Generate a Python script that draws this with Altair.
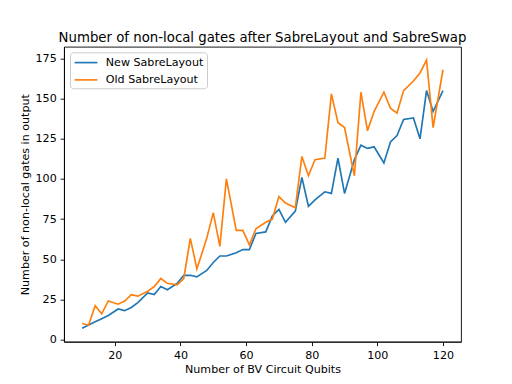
import altair as alt
import pandas as pd

qubits = [10, 12, 14, 16, 18, 21, 23, 25, 27, 30, 32, 34, 36, 39, 41, 43, 45, 48, 50, 52,
          54, 57, 59, 61, 63, 66, 68, 70, 72, 75, 77, 79, 81, 84, 86, 88, 90, 93, 95, 97,
          99, 102, 104, 106, 108, 111, 113, 115, 117, 120]
new_layout = [7, 9, 11, 13, 15, 19, 18, 20, 23, 29, 28, 33, 31, 35, 40, 40, 39, 43, 48, 52,
              52, 54, 56, 56, 66, 67, 77, 81, 73, 80, 101, 83, 87, 92, 91, 113, 91, 112, 121, 119,
              120, 110, 123, 127, 137, 138, 125, 155, 142, 155]
old_layout = [10, 9, 21, 16, 24, 22, 24, 28, 27, 30, 33, 38, 35, 34, 38, 63, 44, 63, 79, 58,
              100, 68, 68, 59, 69, 73, 75, 89, 85, 82, 114, 102, 112, 113, 153, 135, 132, 102, 154, 130,
              142, 154, 144, 141, 155, 161, 166, 174, 132, 168]
series_names = ["New SabreLayout", "Old SabreLayout"]
series_colors = ["#1f77b4", "#ff7f0e"]
x_ticks = [20, 40, 60, 80, 100, 120]
y_ticks = [0, 25, 50, 75, 100, 125, 150, 175]

rows = []
for name, vals in zip(series_names, [new_layout, old_layout]):
    for q, v in zip(qubits, vals):
        rows.append({"qubits": q, "gates": v, "series": name})
df = pd.DataFrame(rows)

FONT = "DejaVu Sans"

chart = alt.Chart(df).mark_line(strokeWidth=1.67).encode(
    x=alt.X("qubits:Q",
            scale=alt.Scale(domain=[4.5, 125.5], nice=False, zero=False),
            axis=alt.Axis(values=x_ticks, format="d", title="Number of BV Circuit Qubits",
                          titlePadding=3)),
    y=alt.Y("gates:Q",
            scale=alt.Scale(domain=[-1.35, 182.35], nice=False, zero=False),
            axis=alt.Axis(values=y_ticks, format="d", title="Number of non-local gates in output",
                          titlePadding=5)),
    color=alt.Color("series:N",
                    scale=alt.Scale(domain=series_names, range=series_colors),
                    legend=alt.Legend(title=None, orient="none", legendX=6, legendY=5.6)),
    order=alt.Order("qubits:Q"),
).properties(
    width=397,
    height=295,
    title=alt.TitleParams(
        text="Number of non-local gates after SabreLayout and SabreSwap",
        font=FONT, fontSize=13.3, fontWeight="normal", color="black",
        anchor="middle", baseline="alphabetic", offset=-8.8),
    autosize=alt.AutoSizeParams(type="none"),
    padding={"left": 56, "top": 38.7, "right": 43, "bottom": 34.3},
).configure_view(
    stroke="black", strokeWidth=0.9
).configure_axis(
    grid=False,
    domainColor="black", domainWidth=0.9,
    tickColor="black", tickWidth=0.9, tickSize=3.9,
    labelFont=FONT, labelFontSize=11.1, labelColor="black", labelPadding=3.9,
    titleFont=FONT, titleFontSize=11.1, titleFontWeight="normal", titleColor="black",
).configure_legend(
    labelFont=FONT, labelFontSize=11.1, labelColor="black",
    symbolType="M-1,0H3", symbolSize=130, symbolStrokeWidth=1.67,
    strokeColor="#cccccc", fillColor="rgba(255,255,255,0.8)", cornerRadius=3,
    padding=3.3, rowPadding=4.3, labelOffset=18.5,
)

chart.save("out.html", embed_options={"renderer": "svg", "actions": False})
